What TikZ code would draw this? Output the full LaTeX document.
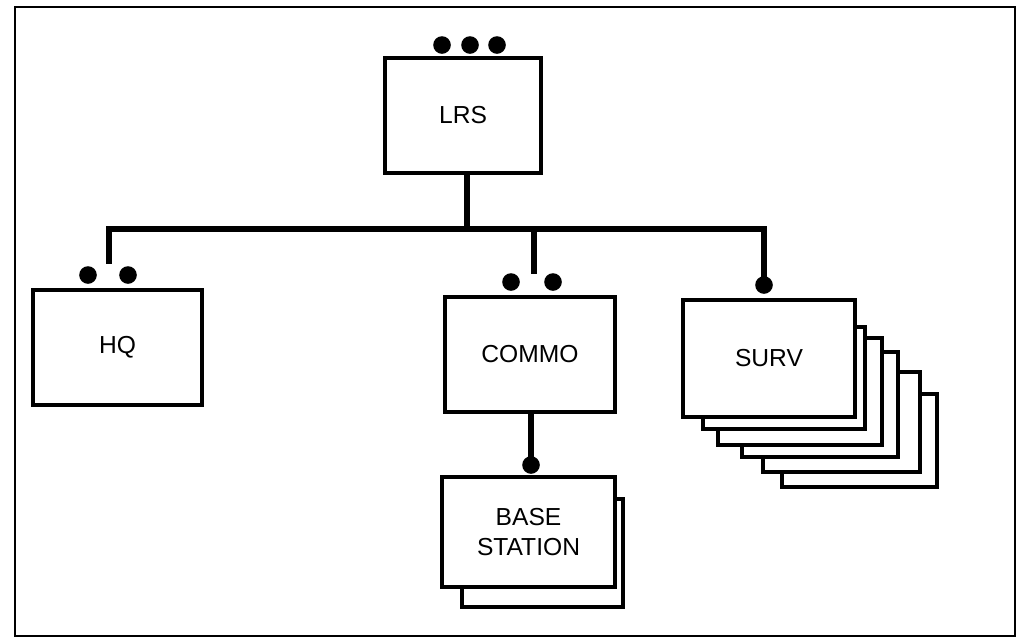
\documentclass[tikz,border=0pt]{standalone}
\usepackage{fontspec}
\setmainfont{Liberation Sans}
\begin{document}
\begin{tikzpicture}[x=0.025cm,y=-0.025cm,
  box/.style={draw=black,fill=white,line width=3pt,inner sep=0pt,align=center,font=\fontsize{17.5}{21}\selectfont},
  card/.style={draw=black,fill=white,line width=2.7pt},
  wire/.style={draw=black,line width=3.8pt},
  dot/.style={circle,fill=black,inner sep=0pt,minimum size=0.44cm},
  frame/.style={draw=black,line width=1.5pt}]
\useasboundingbox (0,0) rectangle (1020,640);
\draw[frame] (15,7) rectangle (1015,636);
% boxes
\node[box,minimum width=3.9cm,minimum height=2.875cm] (lrs) at (463,115.5) {LRS};
\node[box,minimum width=4.225cm,minimum height=2.875cm] (hq) at (117.5,347.5) {HQ};
\node[box,minimum width=4.25cm,minimum height=2.875cm] (commo) at (530,354.5) {COMMO};
% SURV stack
\draw[card] (782,394) rectangle (937,487);
\draw[card] (763,372) rectangle (920,472);
\draw[card] (742,352) rectangle (898,457);
\draw[card] (718,338) rectangle (882,445);
\draw[card] (703,327) rectangle (865,429);
\node[box,minimum width=4.3cm,minimum height=2.925cm] (surv) at (769,358.5) {SURV};
% base station stack
\draw[card] (462,499) rectangle (623,607);
\node[box,minimum width=4.325cm,minimum height=2.75cm] (base) at (528.5,532) {BASE\\STATION};
% dots
\node[dot] (l1) at (442,45) {};
\node[dot] (l2) at (470,45) {};
\node[dot] (l3) at (497,45) {};
\node[dot] (h1) at (88,275) {};
\node[dot] (h2) at (128,275) {};
\node[dot] (c1) at (511,282) {};
\node[dot] (c2) at (553,282) {};
\node[dot] (s1) at (764,285) {};
\node[dot] (b1) at (531,465) {};
% bus
\coordinate (bl) at (467,229);
\coordinate (bh) at (109,229);
\coordinate (bc) at (534,229);
\coordinate (bs) at (764,229);
\coordinate (hs) at (109,264);
\coordinate (cs) at (534,274);
\draw[wire] (lrs.south -| bl) -- (bl);
\draw[wire,line cap=rect] (bh) -- (bs);
\draw[wire] (bh) -- (hs);
\draw[wire] (bc) -- (cs);
\draw[wire] (bs) -- (s1.center);
\draw[wire] (commo.south -| b1) -- (b1.center);
\end{tikzpicture}
\end{document}
